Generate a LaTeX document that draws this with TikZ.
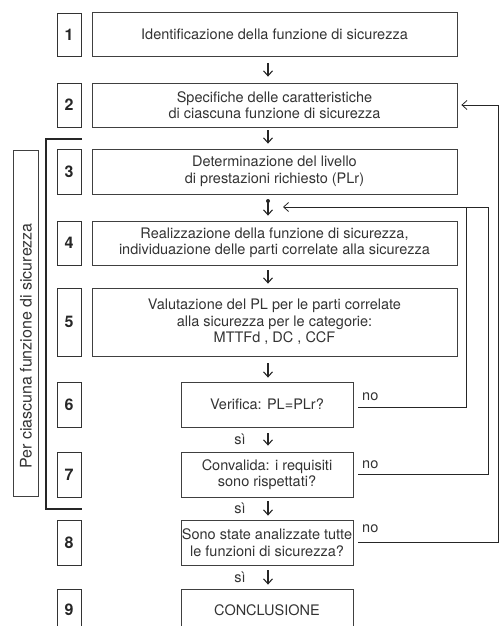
\documentclass[tikz,border=0pt]{standalone}
\usepackage{fontspec}
\setmainfont{TeX Gyre Heros}
\usetikzlibrary{arrows.meta, calc}

\begin{document}
\begin{tikzpicture}[
            x=1pt,
            y=-1pt,
            >={Straight Barb[length=5pt,width=9pt]},
            box/.style={draw=black!75, line width=0.8pt, minimum width=365pt, minimum height=44pt, inner sep=0pt, align=center, text=black!80, font=\fontsize{14.5}{16.5}\selectfont},
            sbox/.style={box, minimum width=172pt, minimum height=45pt},
            num/.style={draw=black!80, line width=0.9pt, minimum width=24pt, inner sep=0pt, text=black!85, font=\fontsize{16}{16}\bfseries\selectfont},
            arr/.style={->, line width=1.1pt, black!85},
            fb/.style={line width=0.8pt, black!85},
            lbl/.style={inner sep=0pt, text=black!80, font=\fontsize{14.5}{14.5}\selectfont}
            ]

            \clip (0,0) rectangle (501,626);

            % fasi
            \node[box] (b1) at (274.5,34.5) {Identificazione della funzione di sicurezza};
            \node[box] (b2) at (274.5,105) {Specifiche delle caratteristiche\\di ciascuna funzione di sicurezza};
            \node[box, minimum height=45pt] (b3) at (274.5,171.5) {Determinazione del livello\\di prestazioni richiesto (PLr)};
            \node[box] (b4) at (274.5,243) {Realizzazione della funzione di sicurezza,\\individuazione delle parti correlate alla sicurezza};
            \node[box, minimum height=68pt] (b5) at (274.5,322) {Valutazione del PL per le parti correlate\\alla sicurezza per le categorie:\\MTTFd , DC , CCF};
            \node[sbox] (b6) at (267,404.5) {Verifica: PL=PLr?};
            \node[sbox] (b7) at (267,474.5) {Convalida: i requisiti\\sono rispettati?};
            \node[sbox] (b8) at (267,542.5) {Sono state analizzate tutte\\le funzioni di sicurezza?};
            \node[sbox, minimum height=42pt] (b9) at (267,610) {CONCLUSIONE};

            % numeri
            \node[num, minimum height=43pt] (n1) at (69,34.5) {1};
            \node[num, minimum height=44pt] (n2) at (69,105) {2};
            \node[num, minimum height=45pt] (n3) at (69,171.5) {3};
            \node[num, minimum height=44pt] (n4) at (69,243) {4};
            \node[num, minimum height=68pt] (n5) at (69,322) {5};
            \node[num, minimum height=45pt] (n6) at (69,404.5) {6};
            \node[num, minimum height=45pt] (n7) at (69,474.5) {7};
            \node[num, minimum height=45pt] (n8) at (69,542.5) {8};
            \node[num, minimum height=42pt] (n9) at (69,610) {9};

            % per ciascuna funzione
            \node[draw=black!75, line width=0.8pt, minimum width=25pt, minimum height=346pt, inner sep=0pt] (side) at (25.5,323) {};
            \node[lbl, rotate=90, font=\fontsize{16}{16}\selectfont] (sidetxt) at (26,346) {Per ciascuna funzione di sicurezza};
            \draw[line width=1.6pt, black!85] (82,139) -- (46,139) -- (46,509) -- (82,509);

            % frecce
            \coordinate (ax) at (268,0);
            \coordinate (jn) at (268,201);
            \coordinate (jin) at (283,207);
            \coordinate (r6) at (466,0);
            \coordinate (r7) at (488,0);
            \coordinate (r8) at (498,0);

            \draw[arr] ([yshift=-6pt]ax |- b1.south) -- ([yshift=6pt]ax |- b2.north);
            \draw[arr] ([yshift=-3pt]ax |- b2.south) -- ([yshift=5pt]ax |- b3.north);
            \fill[black!85] (jn) circle (2pt);
            \draw[arr] (jn) -- ([yshift=5pt]ax |- b4.north);
            \draw[arr] ([yshift=-5pt]ax |- b4.south) -- ([yshift=4pt]ax |- b5.north);
            \draw[arr] ([yshift=-7pt]ax |- b5.south) -- ([yshift=4pt]ax |- b6.north);
            \draw[arr] ([yshift=-6pt]ax |- b6.south) -- ([yshift=6pt]ax |- b7.north);
            \draw[arr] ([yshift=-4pt]ax |- b7.south) -- ([yshift=4pt]ax |- b8.north);
            \draw[arr] ([yshift=-5pt]ax |- b8.south) -- ([yshift=4pt]ax |- b9.north);

            \node[lbl, anchor=base] (si6) at (240,444) {sì};
            \node[lbl, anchor=base] (si7) at (240,513) {sì};
            \node[lbl, anchor=base] (si8) at (240,582) {sì};

            % ritorni
            \draw[fb] ([shift={(5pt,-2.5pt)}]b6.east) -| (r6 |- jin);
            \draw[fb, ->] ([xshift=5pt]b7.east) -| (r7 |- jin) -- (jin);
            \draw[fb, ->] ([xshift=5pt]b8.east) -| (r8 |- b2.east) -- ([xshift=4pt]b2.east);

            \node[lbl, anchor=base west] (no6) at (362,400) {no};
            \node[lbl, anchor=base west] (no7) at (362,468) {no};
            \node[lbl, anchor=base west] (no8) at (362,532) {no};
        \end{tikzpicture}
\end{document}
